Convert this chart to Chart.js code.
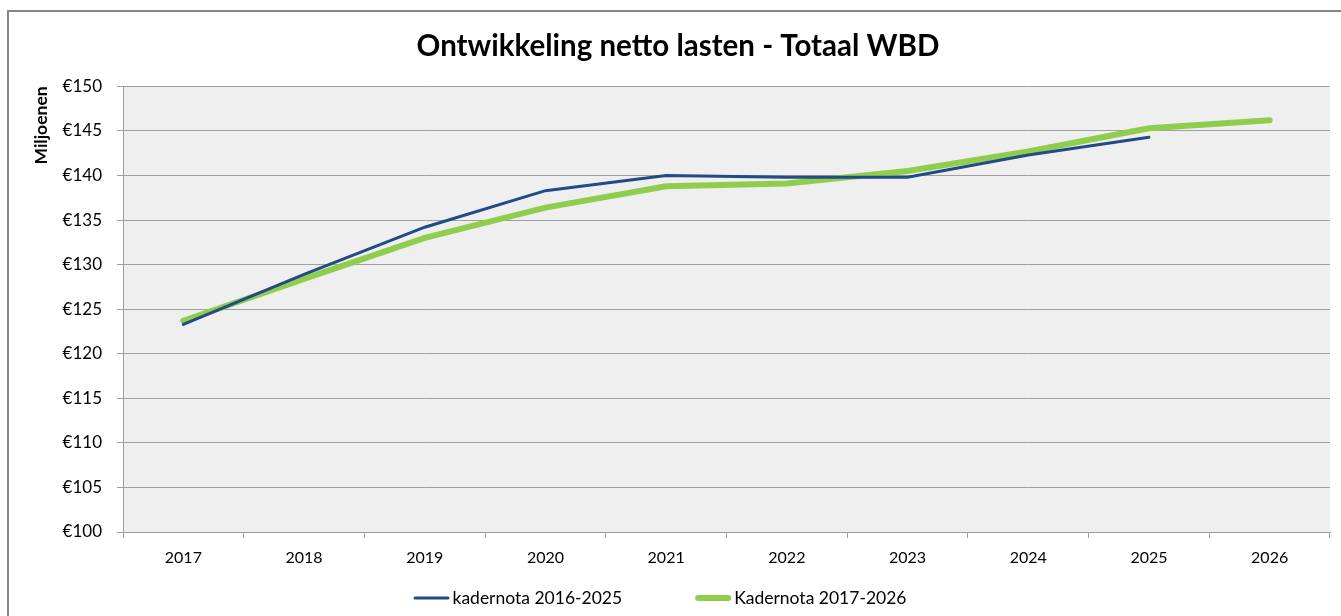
<!DOCTYPE html>
<html>
<head>
<meta charset="utf-8">
<script src="https://cdn.jsdelivr.net/npm/chart.js@4"></script>
<style>
  html, body { margin: 0; padding: 0; background: #fff; }
  #wrap { position: relative; width: 1341px; height: 616px; }
</style>
</head>
<body>
<div id="wrap"><canvas id="chart" width="1341" height="616"></canvas></div>
<script>
// Data
const years = ["2017", "2018", "2019", "2020", "2021", "2022", "2023", "2024", "2025", "2026"];
const kadernota2016 = [123.3, 128.9, 134.2, 138.3, 140.0, 139.8, 139.8, 142.3, 144.3, null];
const kadernota2017 = [123.7, 128.4, 133.0, 136.4, 138.8, 139.1, 140.5, 142.7, 145.3, 146.2];
const yTicks = [100, 105, 110, 115, 120, 125, 130, 135, 140, 145, 150];

const FONT = "Lato, 'Liberation Sans', sans-serif";
const gridGray = "#a0a0a0";

// plot background + outer frame
const frame = {
  id: "frame",
  beforeDraw(chart) {
    const { ctx, chartArea: a } = chart;
    ctx.save();
    ctx.fillStyle = "#efefef";
    ctx.fillRect(a.left, a.top, a.right - a.left, a.bottom - a.top);
    ctx.restore();
  },
  afterDraw(chart) {
    const { ctx } = chart;
    ctx.save();
    ctx.strokeStyle = "#868686";
    ctx.lineWidth = 2;
    ctx.strokeRect(8, 11, 1400, 700);
    ctx.restore();
  },
};

// Excel-style legend: short line sample right against the label
const lineLegend = {
  id: "lineLegend",
  afterDraw(chart) {
    const { ctx } = chart;
    const sample = 36, gap = 3, spacing = 73, y = 598;
    ctx.save();
    ctx.font = "17.5px " + FONT;
    ctx.textBaseline = "middle";
    const items = chart.data.datasets.map((ds) => ({
      ds,
      w: sample + gap + ctx.measureText(ds.label).width,
    }));
    const total = items.reduce((s, it) => s + it.w, 0) + spacing * (items.length - 1);
    let x = 660 - total / 2;
    items.forEach((it) => {
      ctx.strokeStyle = it.ds.borderColor;
      ctx.lineWidth = it.ds.borderWidth;
      ctx.lineCap = "round";
      ctx.beginPath();
      ctx.moveTo(x + it.ds.borderWidth / 2, y);
      ctx.lineTo(x + sample - it.ds.borderWidth / 2, y);
      ctx.stroke();
      ctx.fillStyle = "#000";
      ctx.fillText(it.ds.label, x + sample + gap, y);
      x += it.w + spacing;
    });
    ctx.restore();
  },
};

new Chart(document.getElementById("chart"), {
  type: "line",
  data: {
    labels: years,
    datasets: [
      {
        label: "kadernota 2016-2025",
        data: kadernota2016,
        borderColor: "#214a86",
        backgroundColor: "#214a86",
        borderWidth: 3,
        pointRadius: 0,
        tension: 0,
        borderCapStyle: "round",
        spanGaps: false,
      },
      {
        label: "Kadernota 2017-2026",
        data: kadernota2017,
        borderColor: "#8fce4c",
        backgroundColor: "#8fce4c",
        borderWidth: 6,
        pointRadius: 0,
        tension: 0,
        borderCapStyle: "round",
      },
    ],
  },
  options: {
    responsive: false,
    animation: false,
    layout: { padding: { left: 26, right: 11, top: 0, bottom: 44 } },
    plugins: {
      title: {
        display: true,
        text: "Ontwikkeling netto lasten - Totaal WBD",
        color: "#000",
        font: { family: FONT, size: 29.5, weight: "bold" },
        padding: { top: 29, bottom: 22 },
      },
      legend: { display: false },
      tooltip: { enabled: false },
    },
    scales: {
      x: {
        offset: true,
        afterFit(scale) {
          scale.height = 40;
        },
        grid: {
          offset: true,
          drawOnChartArea: false,
          drawTicks: true,
          tickLength: 6,
          color: gridGray,
        },
        border: { color: gridGray, width: 1 },
        ticks: {
          color: "#000",
          font: { family: FONT, size: 16 },
          padding: 10,
          maxRotation: 0,
        },
      },
      y: {
        min: 100,
        max: 150,
        afterBuildTicks(scale) {
          scale.ticks = yTicks.map((v) => ({ value: v }));
        },
        afterFit(scale) {
          scale.width = 97;
        },
        grid: { color: gridGray, tickLength: 6 },
        border: { color: gridGray, width: 1 },
        ticks: {
          color: "#000",
          font: { family: FONT, size: 17 },
          padding: 15,
          callback: (v) => "€" + v,
        },
        title: {
          display: true,
          text: "Miljoenen",
          align: "end",
          color: "#000",
          font: { family: FONT, size: 17.5, weight: "bold" },
          padding: { top: 5, bottom: 0 },
        },
      },
    },
  },
  plugins: [frame, lineLegend],
});
</script>
</body>
</html>
